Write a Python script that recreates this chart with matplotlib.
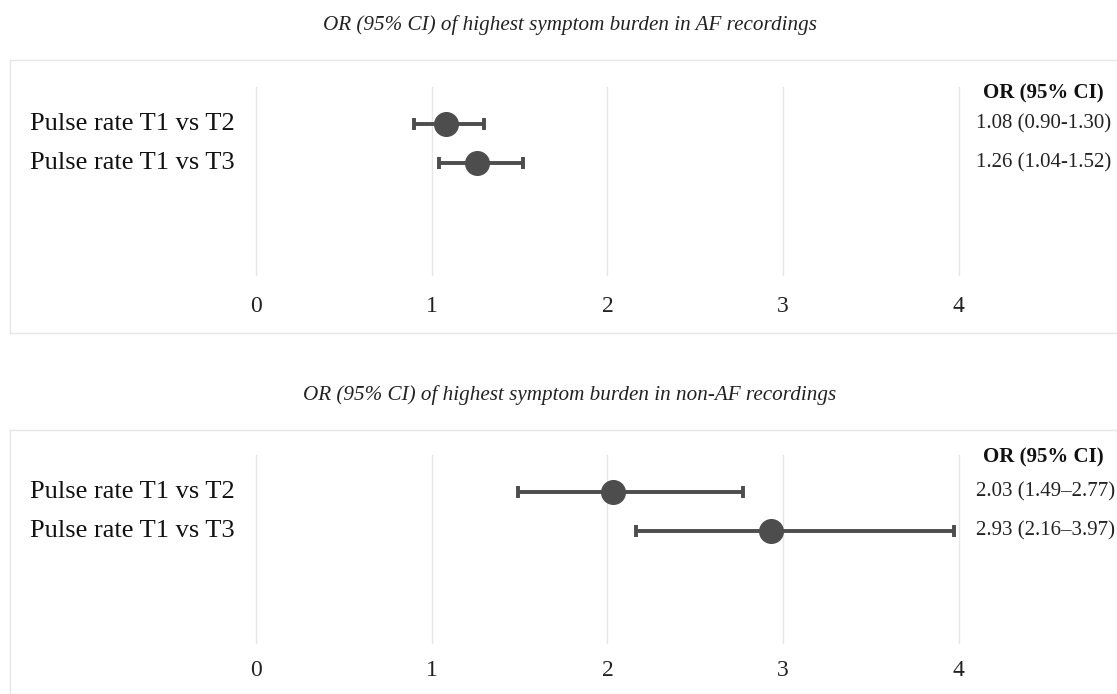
import matplotlib.pyplot as plt

# data
labels = ['Pulse rate T1 vs T2', 'Pulse rate T1 vs T3']
af_or = [1.08, 1.26]
af_lo = [0.90, 1.04]
af_hi = [1.30, 1.52]
af_text = ['1.08 (0.90-1.30)', '1.26 (1.04-1.52)']
non_or = [2.03, 2.93]
non_lo = [1.49, 2.16]
non_hi = [2.77, 3.97]
non_text = ['2.03 (1.49\u20132.77)', '2.93 (2.16\u20133.97)']
ticks = [0, 1, 2, 3, 4]
titles = ['OR (95% CI) of highest symptom burden in AF recordings',
          'OR (95% CI) of highest symptom burden in non-AF recordings']

plt.rcParams['font.family'] = ['Liberation Serif', 'DejaVu Serif']
col = '#4d4d4d'

fig = plt.figure(figsize=(11.17, 6.94), dpi=100)


def panel(rect, ylim, grid, tick_y, head_y, ors, lo, hi, txt):
    ax = fig.add_axes(rect)
    ax.set_xlim(-1.40, 4.90)
    ax.set_ylim(*ylim)
    for s in ax.spines.values():
        s.set_color('#e6e6e6')
        s.set_linewidth(1)
    ax.set_xticks([])
    ax.set_yticks([])
    for t in ticks:
        ax.plot([t, t], grid, color='#e6e6e6', lw=1, zorder=1)
        ax.text(t, tick_y, str(t), ha='center', va='center', fontsize=17, color='#222222')
    rows = list(range(len(labels)))
    err = [[o - l for o, l in zip(ors, lo)], [h - o for o, h in zip(ors, hi)]]
    ax.errorbar(ors, rows, xerr=err, fmt='o', color=col, ecolor=col, ms=17,
                elinewidth=2.8, capsize=4.5, capthick=2.8, zorder=3)
    for r, lab, t in zip(rows, labels, txt):
        ax.text(-1.285, r, lab, ha='left', va='center', fontsize=19, color='#111111')
        ax.text(4.10, r, t, ha='left', va='center', fontsize=15, color='#222222')
    ax.text(4.48, head_y, 'OR (95% CI)', ha='center', va='center', fontsize=15,
            fontweight='bold', color='#111111')
    return ax


# top panel box 60..333 px, bottom panel box 430..694 px
panel([0.009, 1 - 333 / 694, 0.991, 273 / 694], ((333 - 124) / 39, (60 - 124) / 39),
      (-0.95, 3.87), (307 - 124) / 39, (93 - 124) / 39,
      af_or, af_lo, af_hi, af_text)
panel([0.009, 0.0, 0.991, 264 / 694], ((694 - 492) / 39, (430 - 492) / 39),
      (-0.95, 3.87), (670 - 492) / 39, (457 - 492) / 39,
      non_or, non_lo, non_hi, non_text)

fig.text(0.510, 1 - 25 / 694, titles[0], ha='center', va='center', fontsize=15.2,
         style='italic', color='#222222')
fig.text(0.510, 1 - 395 / 694, titles[1], ha='center', va='center', fontsize=15.2,
         style='italic', color='#222222')

fig.savefig('out.png', dpi=100, facecolor='white')
